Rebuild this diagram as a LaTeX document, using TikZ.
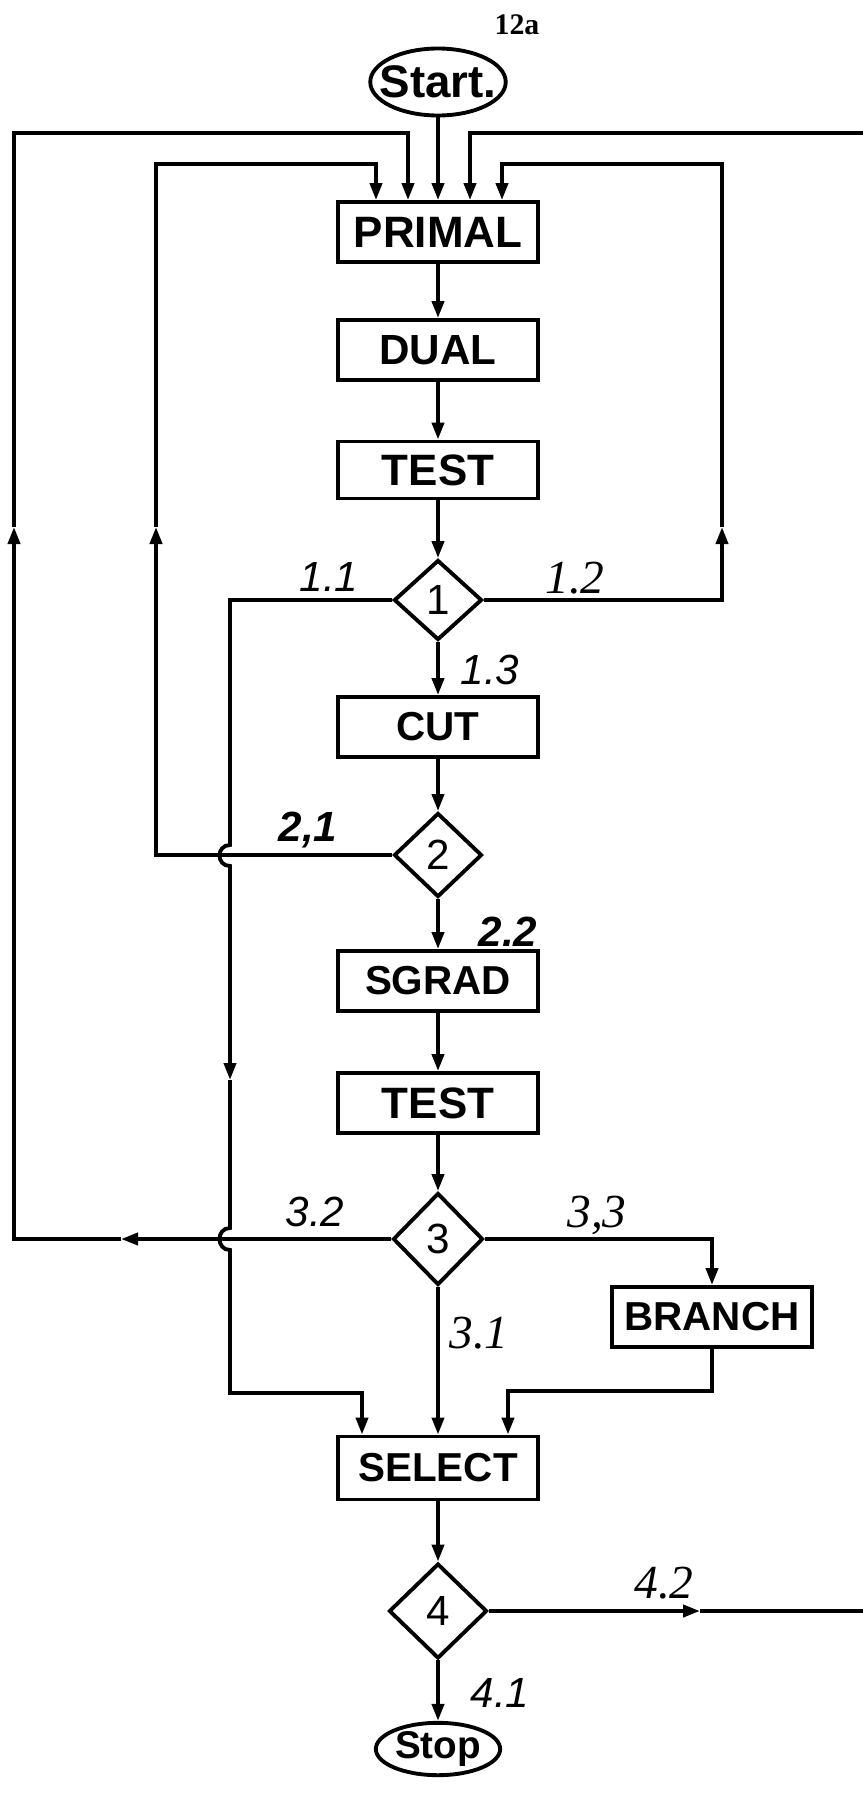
\documentclass[tikz,border=0pt]{standalone}
\usepackage{fontspec}
\setmainfont{Liberation Serif}
\setsansfont{Liberation Sans}
\usetikzlibrary{shapes.geometric, arrows.meta, calc}

\tikzset{
  box/.style={draw, line width=2.2pt, minimum width=40mm, minimum height=12mm, inner sep=0pt,
    font=\sffamily\bfseries\fontsize{25}{25}\selectfont},
  narrow/.style={font=\sffamily\bfseries\fontsize{23}{23}\selectfont},
  cond/.style={diamond, draw, line width=2.2pt, minimum width=17.6mm, minimum height=16.8mm, inner sep=0pt,
    font=\sffamily\fontsize{24}{24}\selectfont},
  term/.style={ellipse, draw, line width=2.2pt, inner sep=0pt,
    font=\sffamily\bfseries\fontsize{22}{22}\selectfont},
  wire/.style={line width=2.2pt},
  flow/.style={wire, -{Triangle[length=3.4mm, width=2.4mm]}},
  lsans/.style={font=\sffamily\itshape\fontsize{24}{24}\selectfont},
  lsansb/.style={font=\sffamily\bfseries\itshape\fontsize{24}{24}\selectfont},
  lserif/.style={font=\itshape\fontsize{27}{27}\selectfont},
}

\begin{document}
\begin{tikzpicture}[x=0.2mm, y=-0.2mm]
  \useasboundingbox (0,0) rectangle (863,1793);

  % main column
  \node[font=\bfseries\fontsize{17}{17}\selectfont] (fig) at (517,25) {12a};
  \node[term, inner xsep=-2.1mm, minimum height=13.4mm,
    font=\sffamily\bfseries\fontsize{26}{26}\selectfont] (start) at (438,82) {Start.};
  \node[box] (primal) at (438,232) {PRIMAL};
  \node[box, font=\sffamily\bfseries\fontsize{24}{24}\selectfont] (dual) at (438,350) {DUAL};
  \node[box, minimum height=11.4mm] (test1) at (438,470) {TEST};
  \node[cond, minimum height=16mm] (d1) at (438,600) {1};
  \node[box, narrow] (cut) at (438,727) {CUT};
  \node[cond] (d2) at (438,855) {2};
  \node[box, narrow] (sgrad) at (438,981) {SGRAD};
  \node[box] (test2) at (438,1103) {TEST};
  \node[cond, minimum width=18mm, minimum height=18.4mm] (d3) at (438,1239) {3};
  \node[box, narrow] (branch) at (712,1317) {BRANCH};
  \node[box, narrow, minimum height=12.6mm] (select) at (438,1468) {SELECT};
  \node[cond, minimum width=19.6mm, minimum height=19mm] (d4) at (438,1611) {4};
  \node[term, inner sep=0.2mm] (stop) at (438,1749) {Stop};

  % branch labels
  \node[lsans] (l11) at (329,577) {1.1};
  \node[lserif] (l12) at (575,578) {1.2};
  \node[lsans] (l13) at (490,670) {1.3};
  \node[lsansb] (l21) at (308,830) {2,1};
  \node[lsansb] (l22) at (508,932) {2.2};
  \node[lsans] (l32) at (315,1212) {3.2};
  \node[lserif] (l33) at (597,1215) {3,3};
  \node[lserif] (l31) at (479,1333) {3.1};
  \node[lserif] (l42) at (664,1583) {4.2};
  \node[lsans] (l41) at (500,1693) {4.1};

  % corners of the loops
  \coordinate (oTopL) at (14,133);
  \coordinate (oTopR) at (863,133);
  \coordinate (iTopL) at (156,164);
  \coordinate (iTopR) at (722,164);
  \coordinate (oMid) at (14,527);
  \coordinate (iMidL) at (156,527);
  \coordinate (iMidR) at (722,527);
  \coordinate (oLeft) at (121,1239);
  \coordinate (byDown) at (230,1080);
  \coordinate (byCorner) at (230,1393);
  \coordinate (exitArrow) at (700,1611);
  \coordinate (exitR) at (863,1611);

  % entries on PRIMAL and SELECT
  \coordinate (pA) at ($(primal.north)+(-62,0)$);
  \coordinate (pB) at ($(primal.north)+(-30,0)$);
  \coordinate (pC) at ($(primal.north)+(32,0)$);
  \coordinate (pD) at ($(primal.north)+(64,0)$);
  \coordinate (sA) at ($(select.north)+(-76,0)$);
  \coordinate (sB) at ($(select.north)+(70,0)$);
  \coordinate (brTurn) at ($(sB)+(0,-44)$);

  \draw[flow] (start) -- (primal);
  \draw[flow] (primal) -- (dual);
  \draw[flow] (dual) -- (test1);
  \draw[flow] (test1) -- (d1);
  \draw[flow] (d1) -- (cut);
  \draw[flow] (cut) -- (d2);
  \draw[flow] (d2) -- (sgrad);
  \draw[flow] (sgrad) -- (test2);
  \draw[flow] (test2) -- (d3);
  \draw[flow] (d3) -- (select);
  \draw[flow] (select) -- (d4);
  \draw[flow] (d4) -- (stop);

  % 1.2 loop
  \draw[flow] (d1.east) -| (iMidR);
  \draw[flow] (iMidR) -- (iTopR) -| (pD);
  % 2,1 loop
  \draw[flow] (d2.west) -| (iMidL);
  \draw[flow] (iMidL) -- (iTopL) -| (pA);
  % 3.2 loop
  \draw[flow] (d3.west) -- (oLeft);
  \draw[flow] (oLeft) -| (oMid);
  \draw[flow] (oMid) -- (oTopL) -| (pB);
  \draw[flow] (oTopR) -| (pC);

  % 1.1 down to SELECT, hopping the crossings
  \draw[flow] (d1.west) -| (230,845) .. controls (216,845) and (216,866) .. (230,866) -- (byDown);
  \draw[flow] (byDown) -- (230,1228) .. controls (216,1228) and (216,1250) .. (230,1250)
    -- (byCorner) -| (sA);

  % 3,3 through BRANCH
  \draw[flow] (d3.east) -| (branch);
  \draw[flow] (branch.south) |- (brTurn) -- (sB);

  % 4.2
  \draw[flow] (d4.east) -- (exitArrow);
  \draw[wire] (exitArrow) -- (exitR);
\end{tikzpicture}
\end{document}
